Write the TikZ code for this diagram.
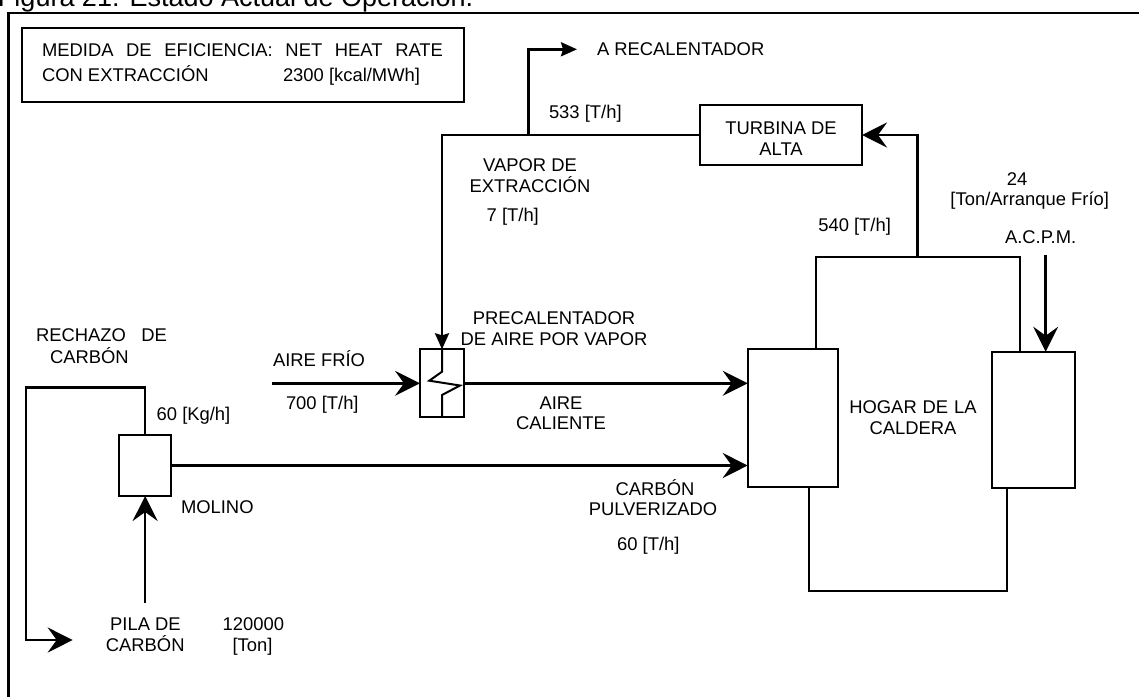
\documentclass[tikz,border=0pt]{standalone}
\usepackage{fontspec}
\setmainfont{Liberation Sans}
\usetikzlibrary{arrows.meta}
\newcommand\fsz{\fontsize{18.4}{21}\selectfont}
\newcommand\tsz{\fontsize{27}{30}\selectfont}
\begin{document}
\begin{tikzpicture}[x=1pt,y=-1pt,
  every node/.style={font=\fsz, inner sep=0pt, outer sep=0pt},
  boxnode/.style={draw, line width=2pt, rectangle},
  flow/.style={line width=2.5pt},
  thinline/.style={line width=2pt},
  bigtip/.style={-{Stealth[length=25pt,width=25pt,inset=9pt]}},
  smalltip/.style={-{Stealth[length=16pt,width=14pt,inset=2pt]}},
  lbl/.style={anchor=base west},
  clbl/.style={anchor=base}]
\useasboundingbox (0,0) rectangle (1139,696);
\clip (0,0) rectangle (1139,696);

% title and outer frame
\node[lbl, font=\tsz] (title) at (-2,6.5) {Figura 21: Estado Actual de Operación.};
\draw[line width=2.7pt] (8.5,13) rectangle (1160,720);

% measure box
\node[boxnode, minimum width=442pt, minimum height=74.5pt] (meas) at (243,64.75) {};
\node[lbl] (meas1) at (42,56.7) {\makebox[401pt][s]{MEDIDA DE EFICIENCIA: NET HEAT RATE}};
\node[lbl] (meas2) at (42,81.7) {CON EXTRACCIÓN};
\node[lbl] (meas3) at (283,81.7) {2300 [kcal/MWh]};

% boxes
\node[boxnode, minimum width=162pt, minimum height=60pt] (turbine) at (781,135) {};
\node[clbl] (turb1) at (781,134) {TURBINA DE};
\node[clbl] (turb2) at (781,155) {ALTA};
\node[boxnode, minimum width=44pt, minimum height=68pt] (preheater) at (442,383.3) {};
\node[boxnode, minimum width=51.7pt, minimum height=61pt] (molino) at (145.15,465.5) {};
\node[boxnode, minimum width=90.6pt, minimum height=137.4pt] (boilerL) at (793,418) {};
\node[boxnode, minimum width=83.3pt, minimum height=136.6pt] (boilerR) at (1033.35,420) {};

% preheater coil
\draw[thinline] (preheater.north) -- (442,371.7) -- (429.3,380.7) -- (460,385.5) -- (442,395) -- (preheater.south);

% boiler outline
\coordinate (bt1) at (816,256.7);
\coordinate (bt2) at (1020,256.7);
\coordinate (bb1) at (809.3,590.7);
\coordinate (bb2) at (1007.3,590.7);
\draw[thinline] (bt1 |- boilerL.north) -- (bt1) -- (bt2) -- (bt2 |- boilerR.north);
\draw[thinline] (bb1 |- boilerL.south) -- (bb1) -- (bb2) -- (bb2 |- boilerR.south);

% steam circuit
\coordinate (btop) at (917.7,256.7);
\draw[flow, bigtip] (btop) |- (turbine.east);
\draw[flow, smalltip] (turbine.west) -| (preheater.north);
\coordinate (jB) at (528.3,135);
\coordinate (rc) at (577,49.3);
\draw[flow, smalltip] (jB) |- (rc);

% air
\coordinate (airin) at (271.7,383.3);
\draw[flow, bigtip] (airin) -- (preheater.west);
\draw[flow, bigtip] (preheater.east) -- (preheater.east -| boilerL.west);

% coal
\draw[flow, bigtip] (molino.east) -- (molino.east -| boilerL.west);
\coordinate (rj1) at (145.15,387.3);
\coordinate (rj2) at (26,387.3);
\coordinate (rj3) at (26,640);
\coordinate (rej) at (72.7,640);
\draw[flow, bigtip] (molino.north) -- (rj1) -- (rj2) -- (rj3) -- (rej);
\coordinate (pila) at (145.15,603.3);
\draw[flow, bigtip] (pila) -- (molino.south);

% fuel oil
\coordinate (acpm) at (1045.7,255);
\draw[flow, bigtip] (acpm) -- (acpm |- boilerR.north);

% labels
\node[lbl] (recal) at (597,55) {A RECALENTADOR};
\node[lbl] (t533) at (549,118) {533 [T/h]};
\node[clbl] (vap1) at (530,171.7) {VAPOR DE};
\node[clbl] (vap2) at (530,192.7) {EXTRACCIÓN};
\node[lbl] (t7) at (486.7,221.7) {7 [T/h]};
\node[clbl] (pre1) at (554,324) {PRECALENTADOR};
\node[clbl] (pre2) at (554,345.7) {DE AIRE POR VAPOR};
\node[lbl] (airf) at (273,366) {AIRE FRÍO};
\node[lbl] (t700) at (286,409) {700 [T/h]};
\node[clbl] (airc1) at (561,409) {AIRE};
\node[clbl] (airc2) at (561,429.3) {CALIENTE};
\node[clbl] (cp1) at (655,495) {CARBÓN};
\node[clbl] (cp2) at (653,515) {PULVERIZADO};
\node[clbl] (t60) at (648.3,550) {60 [T/h]};
\node[lbl] (kg60) at (156.7,420) {60 [Kg/h]};
\node[lbl] (rech1) at (36,341.7) {\makebox[131pt][s]{RECHAZO DE}};
\node[lbl] (rech2) at (50,363.3) {CARBÓN};
\node[lbl] (mol) at (181,513.3) {MOLINO};
\node[clbl] (pila1) at (145.5,630) {PILA DE};
\node[clbl] (pila2) at (145.2,651.7) {CARBÓN};
\node[clbl] (ton1) at (253.3,630) {120000};
\node[clbl] (ton2) at (252.5,651.7) {[Ton]};
\node[lbl] (t540) at (818.3,231.7) {540 [T/h]};
\node[clbl] (t24) at (1017,185) {24};
\node[clbl] (arr) at (1029.7,205) {[Ton/Arranque Frío]};
\node[lbl] (acpmt) at (1005,243.3) {A.C.P.M.};
\node[lbl] (hog1) at (849.3,413.3) {\makebox[127.4pt][s]{HOGAR DE LA}};
\node[clbl] (hog2) at (913,434.3) {CALDERA};
\end{tikzpicture}
\end{document}
